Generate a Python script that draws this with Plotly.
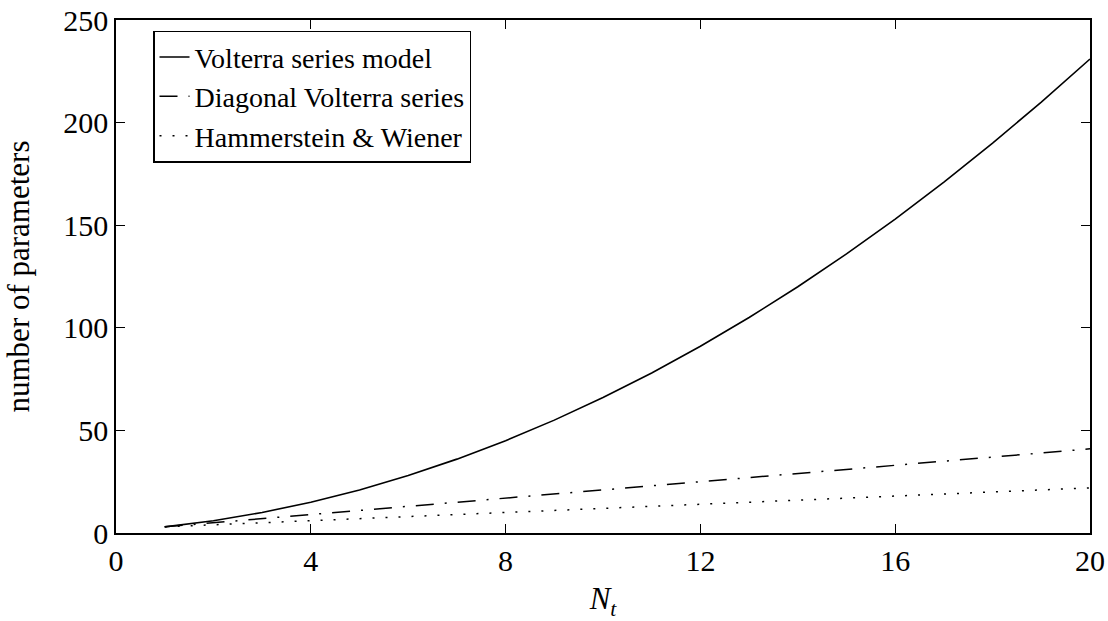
import plotly.graph_objects as go

# Model size versus memory length N_t
n_t = list(range(1, 21))
volterra = [3, 6, 10, 15, 21, 28, 36, 45, 55, 66, 78, 91, 105, 120, 136, 153, 171, 190, 210, 231]
diagonal = [3, 5, 7, 9, 11, 13, 15, 17, 19, 21, 23, 25, 27, 29, 31, 33, 35, 37, 39, 41]
hammerstein = [3, 4, 5, 6, 7, 8, 9, 10, 11, 12, 13, 14, 15, 16, 17, 18, 19, 20, 21, 22]

series_names = ["Volterra series model", "Diagonal Volterra series", "Hammerstein &amp; Wiener"]
x_ticks = [0, 4, 8, 12, 16, 20]
y_ticks = [0, 50, 100, 150, 200, 250]

FONT = "Liberation Serif, DejaVu Serif, serif"

fig = go.Figure()
fig.add_trace(go.Scatter(x=n_t, y=volterra, mode="lines", name=series_names[0],
                         line=dict(color="black", width=1.6)))
fig.add_trace(go.Scatter(x=n_t, y=diagonal, mode="lines", name=series_names[1],
                         line=dict(color="black", width=1.5, dash="18px,11px,2px,11px")))
fig.add_trace(go.Scatter(x=n_t, y=hammerstein, mode="lines", name=series_names[2],
                         line=dict(color="black", width=1.5, dash="2px,11px")))

axis_common = dict(
    showgrid=False, zeroline=False, showline=True, linecolor="black", linewidth=1.5,
    mirror="ticks", ticks="inside", ticklen=9, tickwidth=1.2, tickcolor="black",
    tickfont=dict(family=FONT, size=30, color="black"), automargin=False,
)

fig.update_xaxes(range=[0, 20], tickvals=x_ticks,
                 title=dict(text="<i>N</i><sub><i>t</i></sub>",
                            font=dict(family=FONT, size=31, color="black")),
                 **axis_common)
fig.update_yaxes(range=[0, 250], tickvals=y_ticks,
                 title=dict(text="number of parameters", standoff=24,
                            font=dict(family=FONT, size=31, color="black")),
                 **axis_common)

fig.update_layout(
    width=1108, height=621,
    margin=dict(l=116, r=18, t=20, b=88),
    paper_bgcolor="white", plot_bgcolor="white",
    font=dict(family=FONT, color="black"),
    legend=dict(x=0.038, y=0.979, xanchor="left", yanchor="top",
                bgcolor="white", bordercolor="black", borderwidth=1.5,
                font=dict(family=FONT, size=28, color="black"),
                tracegroupgap=0, itemwidth=30,
                entrywidth=405, entrywidthmode="pixels"),
)

fig.write_html("out.html")
